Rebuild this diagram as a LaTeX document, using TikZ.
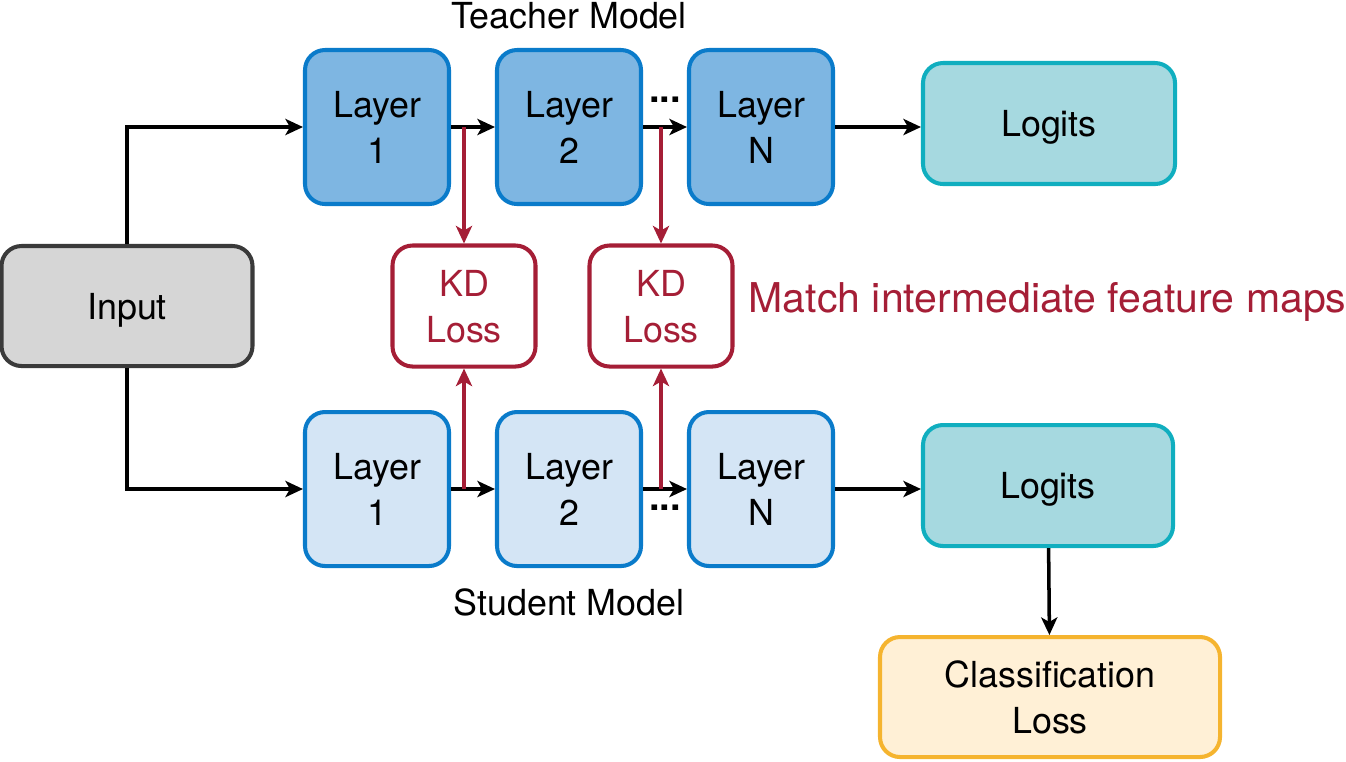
\documentclass[tikz,border=0pt]{standalone}
\usepackage{xcolor}
\usepackage{fontspec}
\setmainfont{TeX Gyre Heros}
\usetikzlibrary{arrows.meta}

\definecolor{tfill}{HTML}{7EB6E2}
\definecolor{sfill}{HTML}{D4E5F5}
\definecolor{lborder}{HTML}{0A7BCA}
\definecolor{logfill}{HTML}{A6D9E0}
\definecolor{logborder}{HTML}{10AEBF}
\definecolor{infill}{HTML}{D6D6D6}
\definecolor{inborder}{HTML}{3A3A3A}
\definecolor{kdred}{HTML}{A51E36}
\definecolor{clfill}{HTML}{FFF0D6}
\definecolor{clborder}{HTML}{F5B42F}

\begin{document}
\begin{tikzpicture}[
        font=\fontsize{10.2}{13.1}\selectfont,
        box/.style={rounded corners=0.2cm, line width=1.15pt, align=center, inner sep=0pt, text depth=0pt},
        layer/.style={box, minimum width=1.44cm, minimum height=1.54cm, draw=lborder},
        tlayer/.style={layer, fill=tfill},
        slayer/.style={layer, fill=sfill},
        logit/.style={box, minimum width=2.52cm, minimum height=1.21cm, draw=logborder, fill=logfill},
        kd/.style={box, minimum width=1.43cm, minimum height=1.21cm, draw=kdred, fill=white, text=kdred},
        arr/.style={-{Stealth[length=5pt, width=4.6pt, inset=1.3pt]}, line width=1pt},
        kdarr/.style={arr, draw=kdred}
    ]
        \useasboundingbox (0,0) rectangle (13.46,-7.61);
        % input
        \node[box, draw=inborder, fill=infill, minimum width=2.51cm, minimum height=1.20cm] (in) at (1.27,-3.06) {Input};
        % teacher
        \node[tlayer] (t1) at (3.77,-1.27) {Layer\\1};
        \node[tlayer] (t2) at (5.69,-1.27) {Layer\\2};
        \node[tlayer] (tn) at (7.61,-1.27) {Layer\\N};
        \node[logit] (tlog) at (10.49,-1.235) {Logits};
        \node (tlabel) at (5.69,-0.16) {Teacher Model};
        \node[font=\fontsize{10.8}{13.1}\bfseries] (tdots) at (6.65,-1.0) {...};
        % student
        \node[slayer] (s1) at (3.77,-4.89) {Layer\\1};
        \node[slayer] (s2) at (5.69,-4.89) {Layer\\2};
        \node[slayer] (sn) at (7.61,-4.89) {Layer\\N};
        \node[logit, minimum width=2.50cm] (slog) at (10.48,-4.855) {Logits};
        \node (slabel) at (5.69,-6.02) {Student Model};
        \node[font=\fontsize{10.8}{13.1}\bfseries] (sdots) at (6.65,-5.08) {...};
        % losses
        \node[kd] (kd1) at (4.64,-3.06) {KD\\Loss};
        \node[kd] (kd2) at (6.61,-3.06) {KD\\Loss};
        \node[anchor=west, inner sep=0pt, text=kdred, font=\fontsize{11.68}{14}\selectfont] (match) at (7.48,-3.02) {Match intermediate feature maps};
        \node[box, draw=clborder, fill=clfill, minimum width=3.40cm, minimum height=1.20cm] (cls) at (10.50,-6.97) {Classification\\Loss};

        \draw[arr] (in.north) |- (t1.west);
        \draw[arr] (in.south) |- (s1.west);
        \draw[arr] (t1) -- (t2);
        \draw[arr] (t2) -- (tn);
        \draw[arr] (tn.east) -- (tn.east -| tlog.west);
        \draw[arr] (s1) -- (s2);
        \draw[arr] (s2) -- (sn);
        \draw[arr] (sn.east) -- (sn.east -| slog.west);
        \draw[arr] (slog) -- (cls);
        \draw[kdarr] (t1.east -| kd1.north) -- (kd1.north);
        \draw[kdarr] (t2.east -| kd2.north) -- (kd2.north);
        \draw[kdarr] (s1.east -| kd1.south) -- (kd1.south);
        \draw[kdarr] (s2.east -| kd2.south) -- (kd2.south);
    \end{tikzpicture}
\end{document}
